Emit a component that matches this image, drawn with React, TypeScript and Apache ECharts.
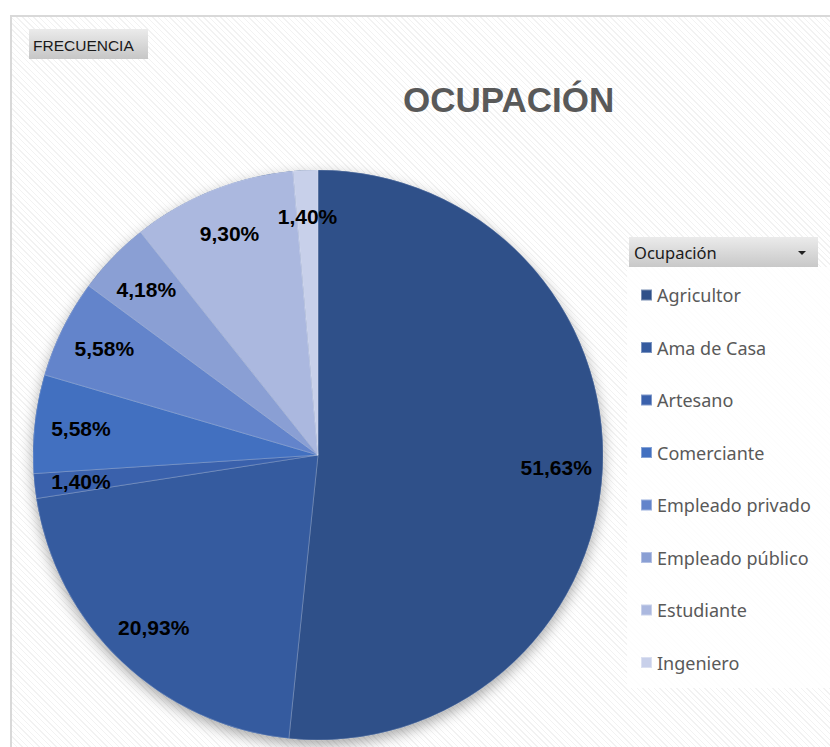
import React, { useEffect, useRef } from "react";
import * as echarts from "echarts";

const categories = [
  "Agricultor",
  "Ama de Casa",
  "Artesano",
  "Comerciante",
  "Empleado privado",
  "Empleado público",
  "Estudiante",
  "Ingeniero",
];
const percentages = [51.63, 20.93, 1.4, 5.58, 5.58, 4.18, 9.3, 1.4];
const colors = [
  "#2F5089",
  "#355B9F",
  "#3A61AC",
  "#4270C0",
  "#6384CB",
  "#8A9FD4",
  "#ABB8DF",
  "#C8D0EA",
];
const titleText = "OCUPACIÓN";
const filterButtonText = "FRECUENCIA";
const legendHeaderText = "Ocupación";

const fmt = (v: number) => v.toFixed(2).replace(".", ",") + "%";

export default function App() {
  const ref = useRef<HTMLDivElement>(null);
  useEffect(() => {
    if (!ref.current) return;
    const chart = echarts.init(ref.current, null, { renderer: "svg" });
    const data = categories.map((name, i) => ({
      name,
      value: percentages[i],
      itemStyle: { color: colors[i] },
    }));
    const center = [318, 455];
    chart.setOption({
      animation: false,
      backgroundColor: "transparent",
      title: {
        text: titleText,
        left: 403,
        top: 82,
        padding: 0,
        textStyle: {
          fontFamily: "Liberation Sans",
          fontWeight: "bold",
          fontSize: 35,
          color: "#595959",
        },
      },
      legend: {
        orient: "vertical",
        left: 640,
        top: 286,
        padding: 0,
        data: categories,
        icon: "rect",
        itemWidth: 11,
        itemHeight: 11,
        itemGap: 34.5,
        selectedMode: false,
        textStyle: {
          fontFamily: "Noto Sans",
          fontSize: 18,
          color: "#595959",
          padding: [0, 0, 0, 0],
        },
      },
      graphic: [
        {
          type: "rect",
          shape: { x: 29, y: 29, width: 119, height: 30 },
          style: {
            fill: new echarts.graphic.LinearGradient(0, 0, 0, 1, [
              { offset: 0, color: "#ebebeb" },
              { offset: 1, color: "#c6c6c6" },
            ]),
          },
          z: 10,
        },
        {
          type: "text",
          x: 33,
          y: 45,
          style: {
            text: filterButtonText,
            font: "15.5px 'Liberation Sans'",
            fill: "#1a1a1a",
            verticalAlign: "middle",
          },
          z: 11,
        },
        {
          type: "rect",
          shape: { x: 627, y: 267, width: 203, height: 421 },
          style: { fill: "rgba(255,255,255,0.85)" },
          z: 0,
        },
        {
          type: "rect",
          shape: { x: 629, y: 237, width: 189, height: 30 },
          style: {
            fill: new echarts.graphic.LinearGradient(0, 0, 0, 1, [
              { offset: 0, color: "#ebebeb" },
              { offset: 1, color: "#c8c8c8" },
            ]),
          },
          z: 10,
        },
        {
          type: "text",
          x: 634,
          y: 252,
          style: {
            text: legendHeaderText,
            font: "16.5px 'Noto Sans'",
            fill: "#1a1a1a",
            verticalAlign: "middle",
          },
          z: 11,
        },
        {
          type: "polygon",
          shape: { points: [[798, 251], [806, 251], [802, 255]] },
          style: { fill: "#222" },
          z: 11,
        },
      ],
      series: [
        {
          type: "pie",
          name: "shadow",
          silent: true,
          center,
          radius: ["0%", 285],
          startAngle: 90,
          label: { show: false },
          labelLine: { show: false },
          itemStyle: {
            color: "#2F5089",
            shadowBlur: 14,
            shadowOffsetY: 5,
            shadowColor: "rgba(0,0,0,0.35)",
          },
          data: [{ name: "__bg", value: 1 }],
          z: 1,
        },
        {
          type: "pie",
          name: "Ocupación",
          center,
          radius: ["0%", 285],
          startAngle: 90,
          clockwise: true,
          silent: true,
          label: { show: false },
          labelLine: { show: false },
          itemStyle: {
            borderColor: "rgba(255,255,255,0.35)",
            borderWidth: 0.6,
          },
          data,
          z: 2,
        },
        {
          type: "pie",
          name: "labels",
          center,
          radius: [186, 285],
          startAngle: 90,
          clockwise: true,
          silent: true,
          itemStyle: { color: "rgba(0,0,0,0)" },
          label: {
            show: true,
            position: "inside",
            formatter: (p: any) => fmt(p.value),
            fontFamily: "Liberation Sans",
            fontWeight: "bold",
            fontSize: 21,
            color: "#000",
          },
          labelLine: { show: false },
          data: categories.map((name, i) => ({ name, value: percentages[i] })),
          z: 3,
        },
      ],
    });
    return () => chart.dispose();
  }, []);

  return (
    <div
      style={{
        position: "fixed",
        left: 0,
        top: 0,
        width: 830,
        height: 747,
        background: "#fff",
        overflow: "hidden",
      }}
    >
      <div
        style={{
          position: "absolute",
          left: 10,
          top: 15,
          width: 830,
          height: 747,
          borderLeft: "2px solid #d9d9d9",
          borderTop: "2px solid #d9d9d9",
          background:
            "repeating-linear-gradient(45deg, #ffffff 0px, #ffffff 3px, #f2f2f2 3px, #f2f2f2 4px)",
        }}
      />
      <div
        ref={ref}
        style={{ position: "absolute", left: 0, top: 0, width: 830, height: 747 }}
      />
    </div>
  );
}
